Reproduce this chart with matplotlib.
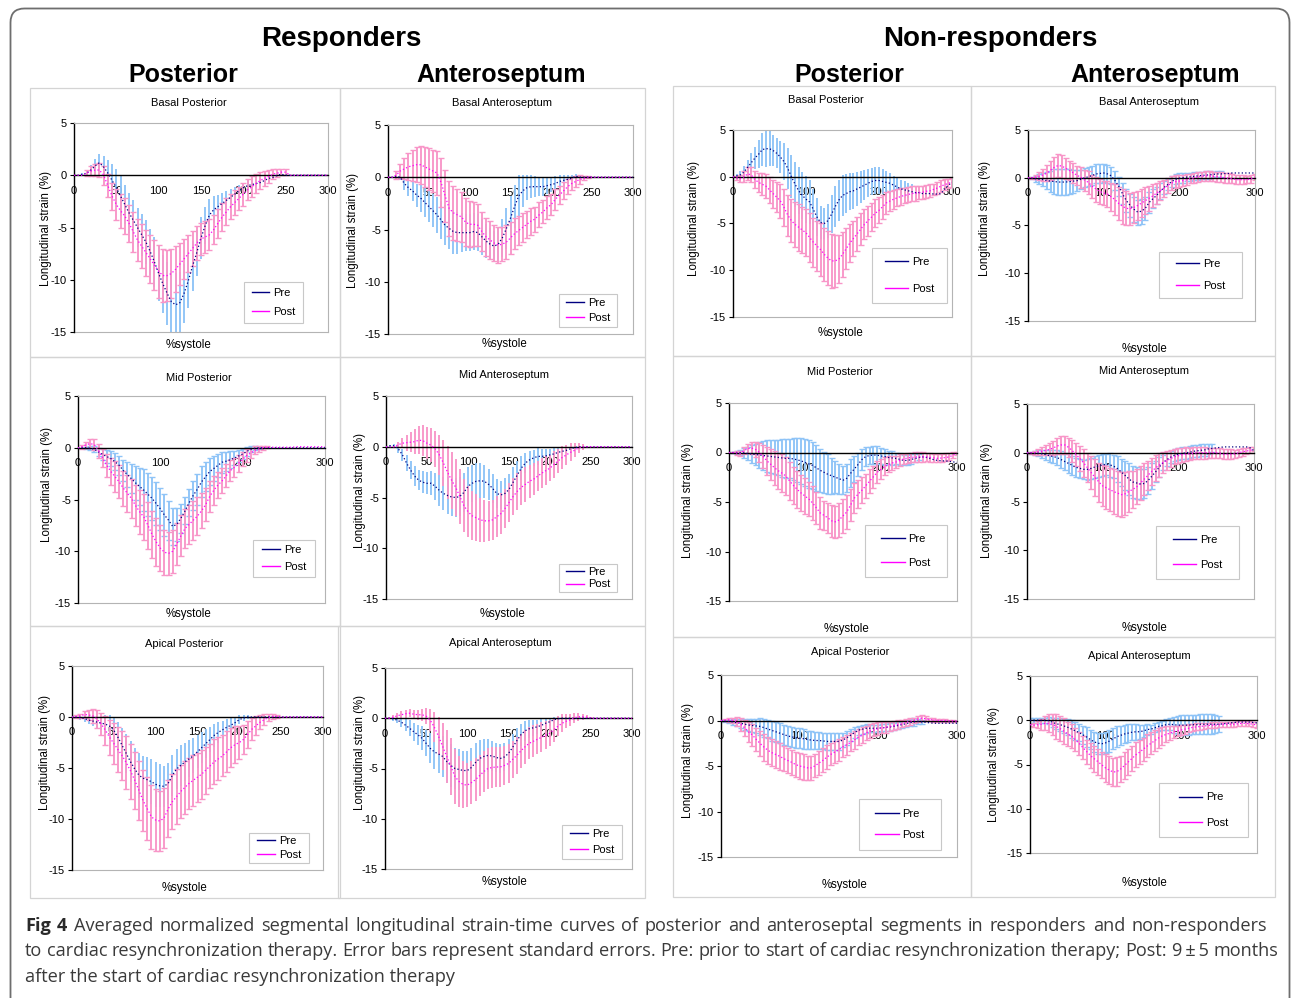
import matplotlib
matplotlib.use('Agg')
import matplotlib.pyplot as plt
import numpy as np
from matplotlib.lines import Line2D
from matplotlib.patches import Rectangle, FancyBboxPatch
from matplotlib.transforms import IdentityTransform

plt.rcParams['font.family'] = ['Liberation Sans', 'DejaVu Sans']
plt.rcParams['axes.unicode_minus'] = False

W, H = 1292, 998

# %systole grid, one value every 5 %
X = np.arange(0, 301, 5)

# ---- Responders -------------------------------------------------------------
R_BAS_POS_PRE = [
    0, 0, 0.1, 0.2, 0.5, 0.9, 1.2, 0.8, 0.2, -0.5,
    -1.2, -2.0, -2.8, -3.6, -4.3, -5.0, -5.7, -6.4, -7.3, -8.3,
    -9.4, -10.4, -11.3, -12.1, -12.4, -12.2, -11.3, -10.1, -8.7, -7.4,
    -6.0, -4.8, -3.8, -3.3, -3.0, -2.7, -2.4, -2.1, -1.8, -1.5,
    -1.2, -1.0, -0.9, -0.8, -0.7, -0.5, -0.3, -0.2, 0, 0.1,
    0, 0, 0, 0, 0, 0, 0, 0, 0, 0,
    0]
R_BAS_POS_PRE_SE = [
    0, 0, 0.1, 0.3, 0.5, 0.7, 0.8, 1.0, 1.3, 1.6,
    1.8, 1.9, 1.9, 1.9, 1.9, 1.9, 2.0, 2.1, 2.2, 2.4,
    2.6, 2.8, 3.0, 3.0, 3.0, 2.9, 2.8, 2.6, 2.4, 2.2,
    2.0, 1.8, 1.5, 1.3, 1.1, 1.0, 0.9, 0.8, 0.7, 0.6,
    0.5, 0.5, 0.4, 0.4, 0.4, 0.3, 0.3, 0.2, 0.2, 0.1,
    0, 0, 0, 0, 0, 0, 0, 0, 0, 0,
    0]
R_BAS_POS_POST = [
    0, 0, 0, 0.2, 0.4, 0.5, 0.5, 0, -1.0, -2.0,
    -2.8, -3.4, -3.9, -4.6, -5.4, -6.2, -6.8, -7.4, -8.0, -8.6,
    -9.2, -9.6, -9.6, -9.4, -9.0, -8.5, -8.0, -7.5, -7.0, -6.5,
    -6.1, -5.9, -5.7, -5.2, -4.6, -4.0, -3.5, -3.0, -2.6, -2.2,
    -1.8, -1.4, -1.1, -0.8, -0.5, -0.3, -0.1, 0.1, 0.2, 0.3,
    0.3, 0, 0, 0, 0, 0, 0, 0, 0, 0,
    0]
R_BAS_POS_POST_SE = [
    0, 0, 0, 0.3, 0.5, 0.6, 0.7, 0.9, 1.1, 1.3,
    1.5, 1.6, 1.7, 1.8, 1.9, 2.0, 2.1, 2.2, 2.3, 2.4,
    2.5, 2.5, 2.4, 2.3, 2.2, 2.0, 1.9, 1.8, 1.7, 1.6,
    1.5, 1.5, 1.5, 1.4, 1.4, 1.3, 1.3, 1.2, 1.2, 1.1,
    1.1, 1.0, 1.0, 0.9, 0.8, 0.7, 0.6, 0.5, 0.4, 0.3,
    0.3, 0, 0, 0, 0, 0, 0, 0, 0, 0,
    0]

R_BAS_ANT_PRE = [
    0, 0, 0.1, 0, -0.6, -1.0, -1.3, -1.7, -2.0, -2.4,
    -2.8, -3.2, -3.6, -4.1, -4.6, -4.9, -5.2, -5.3, -5.3, -5.3,
    -5.3, -5.2, -5.3, -5.7, -6.1, -6.4, -6.6, -6.4, -5.8, -4.9,
    -3.9, -2.8, -1.8, -1.3, -1.0, -0.9, -0.9, -0.9, -0.9, -0.8,
    -0.7, -0.6, -0.4, -0.3, -0.2, -0.1, 0.1, 0, 0, 0,
    0, 0, 0, 0, 0, 0, 0, 0, 0, 0,
    0]
R_BAS_ANT_PRE_SE = [
    0, 0, 0.1, 0.3, 0.6, 0.8, 1.0, 1.1, 1.3, 1.4,
    1.5, 1.6, 1.7, 1.8, 1.9, 2.0, 2.1, 2.0, 1.9, 1.8,
    1.8, 1.8, 1.8, 1.7, 1.6, 1.5, 1.5, 1.6, 1.8, 2.0,
    2.1, 2.1, 2.0, 1.5, 1.2, 1.1, 1.0, 0.9, 0.9, 0.8,
    0.7, 0.7, 0.6, 0.5, 0.4, 0.3, 0.2, 0.1, 0, 0,
    0, 0, 0, 0, 0, 0, 0, 0, 0, 0,
    0]
R_BAS_ANT_POST = [
    0, 0, 0.2, 0.6, 0.8, 1.0, 1.1, 1.2, 1.2, 1.0,
    0.8, 0.6, 0.4, -0.5, -1.8, -3.0, -3.4, -3.6, -3.8, -4.3,
    -4.5, -4.5, -4.6, -5.2, -5.7, -6.0, -6.3, -6.5, -6.4, -6.2,
    -5.8, -5.4, -5.1, -4.8, -4.5, -4.2, -4.0, -3.6, -3.3, -2.9,
    -2.6, -2.1, -1.7, -1.3, -0.9, -0.6, -0.4, -0.2, -0.1, 0,
    0, 0, 0, 0, 0, 0, 0, 0, 0, 0,
    0]
R_BAS_ANT_POST_SE = [
    0, 0, 0.4, 0.7, 1.0, 1.3, 1.5, 1.7, 1.8, 1.9,
    2.0, 2.0, 2.1, 2.3, 2.5, 2.6, 2.6, 2.5, 2.4, 2.3,
    2.2, 2.1, 2.0, 1.9, 1.8, 1.8, 1.7, 1.7, 1.6, 1.6,
    1.5, 1.5, 1.4, 1.4, 1.3, 1.3, 1.2, 1.2, 1.1, 1.1,
    1.0, 1.0, 0.9, 0.8, 0.7, 0.6, 0.5, 0.4, 0.2, 0.1,
    0, 0, 0, 0, 0, 0, 0, 0, 0, 0,
    0]

R_MID_POS_PRE = [
    0, 0, 0, -0.05, -0.15, -0.4, -0.65, -0.85, -1.05, -1.35,
    -1.7, -2.2, -2.6, -3.0, -3.4, -3.75, -4.1, -4.5, -4.9, -5.4,
    -5.9, -6.5, -7.0, -7.6, -7.4, -6.8, -6.1, -5.3, -4.6, -4.0,
    -3.3, -2.8, -2.3, -2.0, -1.7, -1.4, -1.3, -1.15, -1.0, -0.8,
    -0.6, -0.35, -0.15, -0.05, 0, 0, 0, 0, 0, 0,
    0, 0, 0, 0, 0, 0, 0, 0, 0, 0,
    0]
R_MID_POS_PRE_SE = [
    0, 0, 0.1, 0.2, 0.3, 0.4, 0.5, 0.6, 0.7, 0.8,
    0.9, 1.0, 1.2, 1.4, 1.6, 1.8, 2.0, 2.1, 2.1, 2.1,
    2.0, 2.0, 1.9, 1.8, 1.6, 1.4, 1.3, 1.3, 1.4, 1.5,
    1.5, 1.4, 1.3, 1.2, 1.1, 1.0, 0.9, 0.8, 0.7, 0.6,
    0.5, 0.4, 0.3, 0.2, 0.1, 0, 0, 0, 0, 0,
    0, 0, 0, 0, 0, 0, 0, 0, 0, 0,
    0]
R_MID_POS_POST = [
    0, 0.1, 0.3, 0.4, 0.3, -0.3, -1.0, -1.7, -2.3, -2.8,
    -3.3, -3.9, -4.4, -4.9, -5.6, -6.2, -6.7, -7.5, -8.4, -9.1,
    -9.7, -10.1, -10.2, -10.0, -9.3, -8.5, -7.8, -7.4, -7.0, -6.6,
    -6.1, -5.5, -4.7, -4.1, -3.6, -3.2, -2.7, -2.2, -1.9, -1.5,
    -1.1, -0.75, -0.5, -0.25, -0.1, 0, 0.05, 0.05, 0.05, 0.05,
    0.05, 0.05, 0.05, 0.1, 0.1, 0.1, 0.1, 0.1, 0.1, 0.1,
    0.1]
R_MID_POS_POST_SE = [
    0, 0.2, 0.3, 0.4, 0.5, 0.7, 0.9, 1.1, 1.3, 1.5,
    1.6, 1.7, 1.8, 1.9, 2.0, 2.1, 2.2, 2.3, 2.3, 2.3,
    2.2, 2.2, 2.1, 2.1, 2.0, 2.0, 1.9, 1.9, 1.9, 1.8,
    1.7, 1.6, 1.5, 1.4, 1.3, 1.2, 1.1, 1.0, 0.9, 0.8,
    0.7, 0.6, 0.5, 0.4, 0.3, 0.2, 0.1, 0, 0, 0,
    0, 0, 0, 0, 0, 0, 0, 0, 0, 0,
    0]

R_MID_ANT_PRE = [
    0, 0.1, 0.1, -0.2, -0.8, -1.6, -2.3, -2.9, -3.3, -3.5,
    -3.6, -3.6, -3.9, -4.3, -4.6, -4.8, -4.95, -5.0, -4.9, -4.5,
    -3.9, -3.6, -3.4, -3.35, -3.4, -3.7, -4.1, -4.6, -4.75, -4.6,
    -4.2, -3.5, -2.8, -2.1, -1.6, -1.3, -1.1, -0.95, -0.95, -0.9,
    -0.8, -0.7, -0.55, -0.45, -0.35, -0.2, -0.1, 0, 0, 0,
    0, 0, 0, 0, 0, 0, 0, 0, 0, 0,
    0]
R_MID_ANT_PRE_SE = [
    0, 0.1, 0.2, 0.4, 0.6, 0.8, 0.9, 1.0, 1.0, 1.1,
    1.1, 1.2, 1.3, 1.5, 1.6, 1.8, 1.9, 1.9, 1.9, 1.9,
    1.9, 1.8, 1.8, 1.7, 1.6, 1.5, 1.4, 1.4, 1.4, 1.5,
    1.5, 1.5, 1.4, 1.2, 1.0, 0.9, 0.8, 0.8, 0.7, 0.7,
    0.6, 0.6, 0.5, 0.4, 0.3, 0.2, 0.1, 0, 0, 0,
    0, 0, 0, 0, 0, 0, 0, 0, 0, 0,
    0]
R_MID_ANT_POST = [
    0, 0, 0, 0.2, 0.35, 0.4, 0.45, 0.5, 0.65, 0.6,
    0.35, 0.15, -0.2, -0.8, -1.6, -2.5, -3.3, -4.0, -4.9, -5.8,
    -6.4, -6.8, -7.0, -7.2, -7.3, -7.3, -7.2, -6.9, -6.6, -6.1,
    -5.5, -4.9, -4.4, -4.0, -3.7, -3.4, -3.2, -2.9, -2.6, -2.35,
    -2.1, -1.75, -1.4, -1.05, -0.8, -0.55, -0.35, -0.1, 0, 0,
    0, 0, 0, 0, 0, 0, 0, 0, 0, 0,
    0]
R_MID_ANT_POST_SE = [
    0, 0, 0.1, 0.3, 0.5, 0.8, 1.0, 1.2, 1.4, 1.5,
    1.6, 1.7, 1.8, 2.0, 2.3, 2.6, 2.8, 2.8, 2.7, 2.6,
    2.5, 2.4, 2.3, 2.2, 2.1, 2.0, 2.0, 2.0, 2.0, 1.9,
    1.9, 1.8, 1.8, 1.7, 1.7, 1.6, 1.6, 1.5, 1.5, 1.4,
    1.3, 1.3, 1.2, 1.1, 1.0, 0.9, 0.7, 0.5, 0.3, 0.1,
    0, 0, 0, 0, 0, 0, 0, 0, 0, 0,
    0]

R_API_POS_PRE = [
    0, 0, -0.05, -0.15, -0.3, -0.4, -0.5, -0.6, -0.7, -0.9,
    -1.3, -2.0, -2.8, -3.6, -4.4, -5.1, -5.7, -6.0, -6.15, -6.35,
    -6.6, -6.75, -6.8, -6.5, -5.7, -5.1, -4.75, -4.4, -4.1, -3.8,
    -3.4, -3.0, -2.6, -2.2, -1.8, -1.5, -1.25, -1.0, -0.8, -0.55,
    -0.25, -0.1, 0, 0, 0, 0, 0, 0, 0, 0,
    0, 0, 0, 0, 0, 0, 0, 0, 0, 0,
    0]
R_API_POS_PRE_SE = [
    0, 0.1, 0.2, 0.3, 0.4, 0.5, 0.6, 0.7, 0.9, 1.1,
    1.3, 1.5, 1.7, 1.9, 2.0, 2.1, 2.2, 2.2, 2.2, 2.2,
    2.2, 2.1, 2.0, 2.0, 2.0, 2.0, 2.0, 1.9, 1.8, 1.7,
    1.6, 1.5, 1.4, 1.2, 1.1, 1.0, 0.9, 0.8, 0.7, 0.5,
    0.4, 0.3, 0.2, 0, 0, 0, 0, 0, 0, 0,
    0, 0, 0, 0, 0, 0, 0, 0, 0, 0,
    0]
R_API_POS_POST = [
    0, 0.05, 0.1, 0.25, 0.2, 0.1, -0.2, -0.7, -1.3, -2.0,
    -2.6, -3.2, -3.8, -4.5, -5.3, -6.2, -7.2, -8.2, -9.0, -9.8,
    -10.1, -10.2, -9.9, -9.0, -8.3, -7.8, -7.3, -6.9, -6.5, -6.2,
    -5.9, -5.6, -5.2, -4.8, -4.4, -4.1, -3.8, -3.4, -3.0, -2.7,
    -2.5, -2.2, -1.7, -1.2, -0.85, -0.5, -0.25, -0.05, 0.05, 0.05,
    0, 0, 0, 0, 0, 0, 0, 0, 0, 0,
    0]
R_API_POS_POST_SE = [
    0, 0.1, 0.2, 0.3, 0.5, 0.7, 0.9, 1.1, 1.4, 1.7,
    2.0, 2.2, 2.4, 2.6, 2.7, 2.8, 2.9, 3.0, 3.1, 3.1,
    3.0, 2.9, 2.9, 2.8, 2.7, 2.7, 2.6, 2.6, 2.5, 2.5,
    2.4, 2.4, 2.3, 2.2, 2.2, 2.1, 2.0, 2.0, 1.9, 1.8,
    1.6, 1.4, 1.3, 1.1, 0.9, 0.7, 0.5, 0.3, 0.2, 0.1,
    0, 0, 0, 0, 0, 0, 0, 0, 0, 0,
    0]

R_API_ANT_PRE = [
    0, 0, -0.05, -0.2, -0.4, -0.7, -1.0, -1.35, -1.65, -2.0,
    -2.5, -3.0, -3.35, -3.55, -3.8, -4.3, -4.7, -5.0, -5.1, -5.2,
    -5.2, -4.9, -4.4, -4.0, -3.8, -3.7, -3.75, -3.9, -4.0, -3.85,
    -3.5, -2.9, -2.25, -1.65, -1.25, -1.05, -0.95, -0.85, -0.7, -0.5,
    -0.35, -0.15, -0.05, 0, 0, 0, 0, 0, 0, 0,
    0, 0, 0, 0, 0, 0, 0, 0, 0, 0,
    0]
R_API_ANT_PRE_SE = [
    0, 0.1, 0.2, 0.3, 0.5, 0.6, 0.8, 0.9, 1.0, 1.2,
    1.3, 1.5, 1.7, 1.9, 2.0, 2.1, 2.1, 2.0, 2.0, 1.9,
    1.9, 1.9, 1.9, 1.8, 1.7, 1.6, 1.5, 1.4, 1.4, 1.4,
    1.4, 1.3, 1.3, 1.1, 1.0, 0.9, 0.8, 0.7, 0.6, 0.5,
    0.4, 0.3, 0.2, 0.1, 0, 0, 0, 0, 0, 0,
    0, 0, 0, 0, 0, 0, 0, 0, 0, 0,
    0]
R_API_ANT_POST = [
    0, 0, 0.1, 0.25, 0.35, 0.45, 0.5, 0.4, 0.35, 0.35,
    0.2, -0.2, -0.9, -1.8, -2.8, -3.8, -4.8, -5.8, -6.3, -6.6,
    -6.65, -6.4, -6.1, -5.7, -5.3, -5.0, -4.9, -4.85, -4.85, -4.7,
    -4.5, -4.1, -3.7, -3.25, -2.85, -2.5, -2.3, -2.1, -1.9, -1.7,
    -1.5, -1.15, -0.8, -0.5, -0.3, -0.15, 0.05, 0.15, 0.15, 0.1,
    0.05, 0, 0, 0, 0, 0, 0, 0, 0, 0,
    0]
R_API_ANT_POST_SE = [
    0, 0.1, 0.2, 0.3, 0.35, 0.4, 0.4, 0.45, 0.5, 0.6,
    0.8, 1.1, 1.5, 1.9, 2.3, 2.6, 2.8, 2.7, 2.5, 2.3,
    2.2, 2.1, 2.1, 2.0, 2.0, 2.0, 2.0, 2.0, 2.0, 1.9,
    1.9, 1.8, 1.8, 1.7, 1.7, 1.6, 1.6, 1.5, 1.5, 1.4,
    1.3, 1.2, 1.0, 0.9, 0.7, 0.6, 0.5, 0.4, 0.3, 0.2,
    0.1, 0, 0, 0, 0, 0, 0, 0, 0, 0,
    0]

# ---- Non-responders ---------------------------------------------------------
N_BAS_POS_PRE = [
    0, 0.1, 0.2, 0.5, 1.0, 1.5, 2.0, 2.4, 2.9, 3.0,
    3.0, 2.8, 2.5, 2.1, 1.6, 0.9, 0.0, -0.8, -1.5, -2.0,
    -2.4, -2.7, -3.5, -4.3, -4.9, -5.0, -4.7, -4.0, -3.2, -2.5,
    -2.0, -1.8, -1.6, -1.5, -1.3, -1.1, -0.9, -0.7, -0.5, -0.4,
    -0.4, -0.5, -0.6, -0.7, -0.9, -1.1, -1.3, -1.4, -1.5, -1.6,
    -1.7, -1.7, -1.8, -1.8, -1.8, -1.85, -1.85, -1.8, -1.3, -0.9,
    -0.6]
N_BAS_POS_PRE_SE = [
    0, 0.2, 0.4, 0.6, 0.8, 1.0, 1.2, 1.5, 1.8, 2.0,
    1.9, 1.7, 1.6, 1.7, 2.0, 2.2, 2.3, 2.4, 2.5, 2.5,
    2.5, 2.4, 2.2, 2.0, 1.8, 1.7, 1.8, 2.0, 2.2, 2.2,
    2.2, 2.1, 2.0, 1.9, 1.8, 1.7, 1.6, 1.5, 1.4, 1.4,
    1.4, 1.3, 1.2, 1.1, 1.0, 1.0, 0.9, 0.9, 0.8, 0.8,
    0, 0, 0, 0, 0, 0, 0, 0, 0, 0,
    0]
N_BAS_POS_POST = [
    0, -0.1, -0.2, 0, 0.3, 0.2, -0.3, -0.6, -0.8, -1.0,
    -1.4, -1.8, -2.2, -2.6, -3.3, -4.1, -4.7, -5.1, -5.4, -5.7,
    -6.0, -6.5, -7.0, -7.4, -7.8, -8.3, -8.7, -9.0, -9.0, -8.8,
    -8.3, -7.7, -7.1, -6.6, -6.1, -5.6, -5.1, -4.7, -4.3, -3.9,
    -3.6, -3.2, -2.8, -2.6, -2.4, -2.25, -2.1, -2.0, -1.9, -1.8,
    -1.75, -1.7, -1.65, -1.55, -1.5, -1.35, -1.2, -1.0, -0.85, -0.7,
    -0.6]
N_BAS_POS_POST_SE = [
    0, 0.2, 0.4, 0.6, 0.7, 0.8, 0.9, 1.0, 1.2, 1.3,
    1.4, 1.5, 1.6, 1.8, 2.0, 2.2, 2.3, 2.4, 2.5, 2.5,
    2.5, 2.6, 2.6, 2.7, 2.8, 2.8, 2.9, 2.9, 2.8, 2.6,
    2.4, 2.2, 2.0, 1.9, 1.8, 1.7, 1.6, 1.6, 1.5, 1.5,
    1.4, 1.3, 1.2, 1.1, 1.0, 0.9, 0.9, 0.8, 0.8, 0.8,
    0.8, 0.7, 0.7, 0.7, 0.7, 0.6, 0.6, 0.6, 0.6, 0.5,
    0.5]

N_BAS_ANT_PRE = [
    0, 0, -0.1, -0.15, -0.2, -0.3, -0.35, -0.4, -0.45, -0.45,
    -0.45, -0.4, -0.35, -0.3, -0.15, 0, 0.1, 0.25, 0.4, 0.45,
    0.5, 0.4, 0.2, -0.3, -0.9, -1.7, -2.4, -2.9, -3.3, -3.6,
    -3.5, -3.2, -2.6, -2.2, -1.85, -1.4, -1.0, -0.7, -0.4, -0.15,
    -0.05, 0, 0.07, 0.1, 0.15, 0.2, 0.25, 0.28, 0.3, 0.35,
    0.4, 0.4, 0.45, 0.45, 0.5, 0.5, 0.5, 0.5, 0.5, 0.5,
    0.5]
N_BAS_ANT_PRE_SE = [
    0, 0.1, 0.3, 0.5, 0.7, 0.9, 1.1, 1.3, 1.4, 1.4,
    1.4, 1.3, 1.2, 1.1, 1.0, 1.0, 1.0, 1.0, 1.0, 1.0,
    0.9, 0.9, 0.9, 1.0, 1.0, 1.1, 1.2, 1.2, 1.3, 1.3,
    1.3, 1.2, 1.1, 1.0, 0.9, 0.8, 0.7, 0.6, 0.6, 0.5,
    0.5, 0.5, 0.4, 0.4, 0.4, 0.4, 0.4, 0.4, 0.4, 0.3,
    0.3, 0.3, 0, 0, 0, 0, 0, 0, 0, 0,
    0]
N_BAS_ANT_POST = [
    0, 0, 0.05, 0.15, 0.3, 0.5, 0.8, 1.1, 1.3, 1.2,
    1.0, 0.75, 0.5, 0.25, 0.05, -0.25, -0.5, -0.9, -1.2, -1.45,
    -1.6, -1.7, -2.0, -2.3, -2.7, -3.0, -3.2, -3.25, -3.1, -2.9,
    -2.65, -2.4, -2.15, -1.9, -1.6, -1.35, -1.1, -0.8, -0.55, -0.4,
    -0.35, -0.3, -0.2, -0.1, 0, 0.1, 0.15, 0.2, 0.2, 0.15,
    0.1, 0.05, 0, -0.05, -0.1, -0.2, -0.2, -0.2, -0.2, -0.1,
    0.05]
N_BAS_ANT_POST_SE = [
    0, 0.1, 0.2, 0.4, 0.6, 0.8, 1.0, 1.1, 1.2, 1.2,
    1.1, 1.0, 1.0, 1.0, 1.1, 1.1, 1.2, 1.2, 1.3, 1.3,
    1.3, 1.4, 1.5, 1.6, 1.7, 1.8, 1.8, 1.7, 1.6, 1.5,
    1.5, 1.4, 1.3, 1.2, 1.1, 1.0, 0.9, 0.8, 0.7, 0.7,
    0.6, 0.6, 0.6, 0.5, 0.5, 0.5, 0.5, 0.5, 0.5, 0.5,
    0.5, 0.5, 0.5, 0.5, 0.5, 0.5, 0.5, 0.5, 0.4, 0.4,
    0.3]

N_MID_POS_PRE = [
    0, 0, 0, 0, -0.05, -0.1, -0.15, -0.2, -0.25, -0.3,
    -0.35, -0.4, -0.45, -0.5, -0.55, -0.6, -0.6, -0.65, -0.75, -0.85,
    -1.0, -1.15, -1.3, -1.55, -1.8, -2.0, -2.2, -2.35, -2.5, -2.65,
    -2.8, -2.6, -2.1, -1.65, -1.2, -0.7, -0.4, -0.3, -0.25, -0.27,
    -0.35, -0.42, -0.5, -0.55, -0.6, -0.7, -0.8, -0.8, -0.7, -0.6,
    -0.5, -0.45, -0.5, -0.6, -0.75, -0.8, -0.85, -0.85, -0.9, -0.95,
    -1.0]
N_MID_POS_PRE_SE = [
    0, 0.1, 0.2, 0.3, 0.5, 0.7, 0.9, 1.1, 1.3, 1.5,
    1.6, 1.7, 1.7, 1.8, 1.9, 2.0, 2.0, 2.1, 2.2, 2.3,
    2.4, 2.4, 2.4, 2.3, 2.2, 2.1, 2.0, 1.8, 1.6, 1.5,
    1.4, 1.4, 1.4, 1.3, 1.2, 1.1, 1.0, 0.9, 0.9, 0.9,
    0.8, 0.8, 0.7, 0.7, 0.6, 0.6, 0.5, 0.5, 0.5, 0.4,
    0.3, 0, 0, 0, 0, 0, 0, 0, 0, 0,
    0]
N_MID_POS_POST = [
    0, 0, -0.05, -0.1, 0.2, 0.4, 0.45, 0.3, 0, -0.4,
    -0.85, -1.2, -1.55, -1.85, -2.1, -2.4, -2.9, -3.35, -3.75, -4.1,
    -4.4, -4.7, -5.1, -5.6, -6.1, -6.35, -6.6, -6.9, -7.0, -6.8,
    -6.4, -6.0, -5.3, -4.6, -4.2, -3.8, -3.35, -2.9, -2.45, -2.0,
    -1.7, -1.4, -1.2, -1.05, -0.95, -0.8, -0.65, -0.55, -0.5, -0.45,
    -0.45, -0.45, -0.45, -0.5, -0.55, -0.6, -0.55, -0.5, -0.45, -0.25,
    -0.1]
N_MID_POS_POST_SE = [
    0, 0.1, 0.2, 0.3, 0.4, 0.5, 0.6, 0.8, 1.0, 1.2,
    1.4, 1.6, 1.7, 1.8, 1.9, 1.9, 1.9, 1.9, 1.9, 1.8,
    1.8, 1.7, 1.7, 1.6, 1.6, 1.5, 1.5, 1.6, 1.6, 1.7,
    1.7, 1.7, 1.6, 1.5, 1.4, 1.3, 1.2, 1.2, 1.1, 1.1,
    1.0, 0.9, 0.8, 0.7, 0.6, 0.6, 0.5, 0.5, 0.5, 0.5,
    0.5, 0.5, 0.45, 0.45, 0.4, 0.4, 0.4, 0.4, 0.35, 0.3,
    0.2]

N_MID_ANT_PRE = [
    0, 0, 0, -0.05, -0.1, -0.2, -0.3, -0.4, -0.5, -0.7,
    -0.9, -1.1, -1.3, -1.5, -1.6, -1.7, -1.7, -1.6, -1.45, -1.35,
    -1.25, -1.2, -1.25, -1.4, -1.65, -2.0, -2.35, -2.7, -3.0, -3.1,
    -3.2, -3.15, -2.85, -2.4, -1.95, -1.45, -1.0, -0.7, -0.45, -0.25,
    -0.15, -0.05, 0, 0.05, 0.15, 0.2, 0.25, 0.3, 0.4, 0.45,
    0.5, 0.55, 0.6, 0.6, 0.6, 0.6, 0.6, 0.6, 0.6, 0.5,
    0.2]
N_MID_ANT_PRE_SE = [
    0, 0.1, 0.2, 0.3, 0.4, 0.5, 0.6, 0.7, 0.8, 0.9,
    0.9, 1.0, 1.0, 1.0, 1.0, 1.0, 1.1, 1.1, 1.1, 1.1,
    1.1, 1.1, 1.2, 1.2, 1.3, 1.4, 1.5, 1.6, 1.6, 1.6,
    1.5, 1.5, 1.4, 1.3, 1.1, 1.0, 0.8, 0.7, 0.6, 0.6,
    0.6, 0.6, 0.6, 0.6, 0.6, 0.6, 0.6, 0.6, 0.5, 0.4,
    0, 0, 0, 0, 0, 0, 0, 0, 0, 0,
    0]
N_MID_ANT_POST = [
    0, 0, 0, 0.1, 0.15, 0.25, 0.35, 0.5, 0.7, 0.8,
    0.8, 0.55, 0.2, -0.2, -0.6, -1.05, -1.55, -2.05, -2.55, -3.0,
    -3.4, -3.6, -3.8, -4.0, -4.15, -4.3, -4.2, -3.95, -3.75, -3.5,
    -3.1, -2.7, -2.3, -1.9, -1.55, -1.25, -1.0, -0.8, -0.6, -0.4,
    -0.3, -0.2, -0.15, -0.1, -0.05, 0, 0, 0, 0, 0,
    0, -0.05, -0.15, -0.15, -0.15, -0.1, 0, 0.1, 0.17, 0.25,
    0.35]
N_MID_ANT_POST_SE = [
    0, 0.1, 0.2, 0.3, 0.4, 0.5, 0.6, 0.7, 0.8, 0.9,
    0.9, 1.0, 1.1, 1.2, 1.3, 1.4, 1.5, 1.7, 1.9, 2.0,
    2.1, 2.2, 2.2, 2.3, 2.3, 2.3, 2.2, 2.1, 1.9, 1.8,
    1.7, 1.6, 1.5, 1.4, 1.3, 1.2, 1.1, 1.0, 0.9, 0.8,
    0.8, 0.7, 0.7, 0.6, 0.6, 0.6, 0.6, 0.6, 0.5, 0.5,
    0.5, 0.5, 0.5, 0.5, 0.5, 0.4, 0.4, 0.4, 0.3, 0.3,
    0.2]

N_API_POS_PRE = [
    0, -0.05, -0.1, -0.15, -0.25, -0.3, -0.4, -0.5, -0.55, -0.6,
    -0.65, -0.8, -0.95, -1.1, -1.25, -1.4, -1.55, -1.7, -1.8, -1.9,
    -1.95, -2.0, -2.1, -2.15, -2.2, -2.2, -2.25, -2.3, -2.3, -2.3,
    -2.3, -2.15, -1.9, -1.6, -1.3, -1.05, -0.95, -0.85, -0.85, -0.85,
    -0.85, -0.8, -0.75, -0.7, -0.62, -0.55, -0.45, -0.35, -0.25, -0.15,
    -0.1, -0.15, -0.2, -0.25, -0.3, -0.3, -0.3, -0.3, -0.3, -0.3,
    -0.3]
N_API_POS_PRE_SE = [
    0, 0.1, 0.2, 0.3, 0.4, 0.5, 0.6, 0.7, 0.7, 0.8,
    0.9, 1.0, 1.0, 1.1, 1.1, 1.1, 1.1, 1.1, 1.1, 1.1,
    1.1, 1.1, 1.0, 1.0, 0.9, 0.9, 0.9, 0.9, 0.9, 0.9,
    0.9, 0.8, 0.8, 0.7, 0.6, 0.5, 0.5, 0.5, 0.4, 0.4,
    0.4, 0.4, 0.4, 0.4, 0.4, 0.4, 0.4, 0.4, 0.4, 0.4,
    0.3, 0.2, 0, 0, 0, 0, 0, 0, 0, 0,
    0]
N_API_POS_POST = [
    0, 0.05, 0.07, 0, -0.1, -0.4, -0.8, -1.25, -1.6, -2.1,
    -2.55, -2.95, -3.3, -3.55, -3.75, -3.95, -4.2, -4.4, -4.6, -4.85,
    -5.0, -5.1, -5.2, -5.2, -4.95, -4.65, -4.35, -4.0, -3.7, -3.45,
    -3.2, -2.9, -2.65, -2.4, -2.1, -1.8, -1.6, -1.35, -1.15, -1.0,
    -0.9, -0.8, -0.75, -0.65, -0.55, -0.45, -0.35, -0.2, -0.1, 0,
    0.15, 0.25, 0.2, 0.1, 0.05, 0, 0, 0, -0.05, -0.05,
    -0.1]
N_API_POS_POST_SE = [
    0, 0.1, 0.2, 0.3, 0.5, 0.7, 0.9, 1.1, 1.2, 1.3,
    1.4, 1.5, 1.5, 1.5, 1.5, 1.5, 1.4, 1.4, 1.4, 1.4,
    1.4, 1.4, 1.35, 1.3, 1.3, 1.3, 1.3, 1.3, 1.2, 1.2,
    1.2, 1.1, 1.1, 1.0, 1.0, 0.9, 0.9, 0.8, 0.8, 0.7,
    0.7, 0.6, 0.6, 0.5, 0.5, 0.5, 0.4, 0.4, 0.4, 0.3,
    0.3, 0.3, 0.3, 0.2, 0.2, 0.2, 0.2, 0.2, 0.1, 0.1,
    0.1]

N_API_ANT_PRE = [
    0, 0, 0, 0, 0, -0.05, -0.25, -0.4, -0.5, -0.65,
    -0.8, -1.0, -1.2, -1.4, -1.65, -1.9, -2.2, -2.45, -2.6, -2.65,
    -2.55, -2.35, -2.1, -1.85, -1.7, -1.55, -1.45, -1.35, -1.3, -1.3,
    -1.2, -1.05, -1.0, -0.85, -0.7, -0.6, -0.5, -0.45, -0.5, -0.55,
    -0.55, -0.55, -0.55, -0.5, -0.5, -0.45, -0.45, -0.45, -0.45, -0.45,
    -0.45, -0.4, -0.35, -0.3, -0.25, -0.2, -0.2, -0.2, -0.2, -0.25,
    -0.3]
N_API_ANT_PRE_SE = [
    0.3, 0.3, 0.3, 0.3, 0.3, 0.4, 0.5, 0.6, 0.7, 0.8,
    0.9, 1.0, 1.0, 1.0, 1.0, 1.1, 1.1, 1.1, 1.2, 1.2,
    1.2, 1.2, 1.2, 1.2, 1.1, 1.0, 1.0, 0.9, 0.9, 0.8,
    0.7, 0.6, 0.5, 0.5, 0.5, 0.5, 0.6, 0.7, 0.9, 1.0,
    1.1, 1.1, 1.1, 1.1, 1.1, 1.1, 1.1, 1.1, 1.1, 1.0,
    0.9, 0, 0, 0, 0, 0, 0, 0, 0, 0,
    0]
N_API_ANT_POST = [
    -0.5, -0.55, -0.5, -0.45, -0.35, -0.35, -0.45, -0.7, -0.95, -1.25,
    -1.55, -1.8, -2.2, -2.6, -3.1, -3.55, -4.0, -4.35, -4.7, -5.05,
    -5.4, -5.65, -5.85, -5.8, -5.5, -5.1, -4.7, -4.3, -3.9, -3.6,
    -3.25, -2.9, -2.6, -2.3, -2.0, -1.75, -1.6, -1.45, -1.3, -1.2,
    -1.1, -1.0, -0.9, -0.8, -0.75, -0.7, -0.65, -0.6, -0.55, -0.55,
    -0.5, -0.45, -0.45, -0.45, -0.45, -0.4, -0.35, -0.35, -0.4, -0.45,
    -0.55]
N_API_ANT_POST_SE = [
    0.1, 0.2, 0.4, 0.6, 0.8, 1.0, 1.2, 1.4, 1.45, 1.45,
    1.4, 1.35, 1.3, 1.3, 1.3, 1.35, 1.4, 1.45, 1.5, 1.5,
    1.55, 1.6, 1.6, 1.6, 1.5, 1.5, 1.45, 1.4, 1.4, 1.35,
    1.3, 1.3, 1.25, 1.2, 1.1, 1.0, 0.9, 0.8, 0.7, 0.6,
    0.55, 0.5, 0.45, 0.4, 0.4, 0.35, 0.35, 0.3, 0.3, 0.3,
    0.3, 0.3, 0.3, 0.3, 0.3, 0.3, 0.3, 0.3, 0.3, 0.3,
    0.3]

Y_TICKS = [-15, -10, -5, 0, 5]
GROUP_TITLES = ['Responders', 'Non-responders']
SEGMENT_TITLES = ['Posterior', 'Anteroseptum', 'Posterior', 'Anteroseptum']
CAPTION_BOLD = 'Fig 4'
CAPTION_LINES = [
    'Averaged normalized segmental longitudinal strain-time curves of posterior and anteroseptal segments in responders and non-responders',
    'to cardiac resynchronization therapy. Error bars represent standard errors. Pre: prior to start of cardiac resynchronization therapy; Post: 9\u2009\u00b1\u20095 months',
    'after the start of cardiac resynchronization therapy',
]

PRE_LINE = '#000080'
POST_LINE = '#FF00FF'
PRE_BAR = '#8FC4F7'
POST_BAR = '#F896C8'
FRAME = '#D4D4D4'
PLOT_EDGE = '#B4B4B4'
CAP_COLOR = '#3A3A3A'

# layout in pixels: axes (l, t, r, b), title, xlabel, ylabel centres,
# legend box (x0, y0, x1, y1), legend row spacing, handle length, x tick step, cap sizes
PANELS = [
    ('Basal Posterior', R_BAS_POS_PRE, R_BAS_POS_PRE_SE, R_BAS_POS_POST, R_BAS_POS_POST_SE,
     dict(ax=(74, 123, 328, 332), title=(189, 103), xl=(189, 345), yl=(46, 228),
          leg=(244, 282, 303, 323), ls=0.8, hl=1.6, step=50, caps=(0, 2))),
    ('Basal Anteroseptum', R_BAS_ANT_PRE, R_BAS_ANT_PRE_SE, R_BAS_ANT_POST, R_BAS_ANT_POST_SE,
     dict(ax=(388, 125, 633, 334), title=(502, 103), xl=(505, 344), yl=(353, 230),
          leg=(559, 294, 617, 327), ls=0.45, hl=1.6, step=50, caps=(0, 2))),
    ('Basal Posterior', N_BAS_POS_PRE, N_BAS_POS_PRE_SE, N_BAS_POS_POST, N_BAS_POS_POST_SE,
     dict(ax=(733, 130, 952, 317), title=(826, 100), xl=(841, 333), yl=(694, 218),
          leg=(872, 248, 947, 303), ls=1.5, hl=2.1, step=100, caps=(0, 2))),
    ('Basal Anteroseptum', N_BAS_ANT_PRE, N_BAS_ANT_PRE_SE, N_BAS_ANT_POST, N_BAS_ANT_POST_SE,
     dict(ax=(1028, 130, 1255, 321), title=(1149, 102), xl=(1145, 349), yl=(985, 219),
          leg=(1159, 252, 1242, 298), ls=1.1, hl=2.1, step=100, caps=(2, 2))),
    ('Mid Posterior', R_MID_POS_PRE, R_MID_POS_PRE_SE, R_MID_POS_POST, R_MID_POS_POST_SE,
     dict(ax=(78, 396, 325, 603), title=(199, 378), xl=(189, 614), yl=(47, 484),
          leg=(253, 540, 315, 577), ls=0.6, hl=1.6, step=100, caps=(2, 2))),
    ('Mid Anteroseptum', R_MID_ANT_PRE, R_MID_ANT_PRE_SE, R_MID_ANT_POST, R_MID_ANT_POST_SE,
     dict(ax=(386, 396, 632, 599), title=(504, 375), xl=(502, 614), yl=(360, 490),
          leg=(559, 564, 617, 592), ls=0.25, hl=1.6, step=50, caps=(0, 0))),
    ('Mid Posterior', N_MID_POS_PRE, N_MID_POS_PRE_SE, N_MID_POS_POST, N_MID_POS_POST_SE,
     dict(ax=(729, 403, 957, 601), title=(840, 372), xl=(847, 629), yl=(688, 500),
          leg=(865, 525, 947, 577), ls=1.3, hl=2.1, step=100, caps=(2, 2))),
    ('Mid Anteroseptum', N_MID_ANT_PRE, N_MID_ANT_PRE_SE, N_MID_ANT_POST, N_MID_ANT_POST_SE,
     dict(ax=(1027, 404, 1254, 599), title=(1144, 371), xl=(1144, 628), yl=(987, 500),
          leg=(1156, 526, 1239, 579), ls=1.3, hl=2.1, step=100, caps=(2, 2))),
    ('Apical Posterior', R_API_POS_PRE, R_API_POS_PRE_SE, R_API_POS_POST, R_API_POS_POST_SE,
     dict(ax=(72, 666, 323, 870), title=(184, 644), xl=(185, 888), yl=(45, 753),
          leg=(249, 833, 309, 863), ls=0.3, hl=1.6, step=50, caps=(0, 2))),
    ('Apical Anteroseptum', R_API_ANT_PRE, R_API_ANT_PRE_SE, R_API_ANT_POST, R_API_ANT_POST_SE,
     dict(ax=(385, 668, 632, 869), title=(500, 643), xl=(505, 882), yl=(360, 753),
          leg=(562, 825, 622, 859), ls=0.5, hl=1.6, step=50, caps=(0, 0))),
    ('Apical Posterior', N_API_POS_PRE, N_API_POS_PRE_SE, N_API_POS_POST, N_API_POS_POST_SE,
     dict(ax=(721, 675, 957, 857), title=(850, 652), xl=(844, 885), yl=(688, 760),
          leg=(859, 799, 941, 850), ls=1.0, hl=2.1, step=100, caps=(2, 2))),
    ('Apical Anteroseptum', N_API_ANT_PRE, N_API_ANT_PRE_SE, N_API_ANT_POST, N_API_ANT_POST_SE,
     dict(ax=(1030, 676, 1257, 853), title=(1139, 656), xl=(1145, 883), yl=(994, 765),
          leg=(1159, 783, 1248, 837), ls=1.35, hl=2.1, step=100, caps=(2, 2))),
]

# grey panel frames (x0, y0, x1, y1)
FRAMES = [
    (30, 88, 340, 357), (340, 88, 645, 357), (30, 357, 340, 626), (340, 357, 645, 626),
    (30, 626, 340, 898), (338, 626, 645, 898),
    (673, 86, 971, 356), (971, 86, 1275, 356), (673, 356, 971, 637), (971, 356, 1275, 637),
    (673, 637, 971, 897), (971, 637, 1275, 897),
]


def fx(x):
    return x / W


def fy(y):
    return 1 - y / H


fig = plt.figure(figsize=(W / 100, H / 100), dpi=100)
fig.patch.set_facecolor('white')

# rounded outer border of the figure box (bottom runs off the page)
fig.add_artist(FancyBboxPatch((10.5, -30), 1279, 1019.5, boxstyle='round,pad=0,rounding_size=14',
                              transform=IdentityTransform(), fill=False, ec='#6E6E6E', lw=1.3))

for x0, y0, x1, y1 in FRAMES:
    fig.add_artist(Rectangle((fx(x0), fy(y1)), (x1 - x0) / W, (y1 - y0) / H,
                             transform=fig.transFigure, fill=False, ec=FRAME, lw=0.9, zorder=-1))

fig.text(fx(341), fy(38.5), GROUP_TITLES[0], ha='center', va='center', fontsize=20, weight='bold')
fig.text(fx(990), fy(38.5), GROUP_TITLES[1], ha='center', va='center', fontsize=20, weight='bold')
for cx, name in zip([183, 501, 849, 1155], SEGMENT_TITLES):
    fig.text(fx(cx), fy(75), name, ha='center', va='center', fontsize=18, weight='bold')

handles = [Line2D([], [], color=PRE_LINE, lw=1.0), Line2D([], [], color=POST_LINE, lw=1.0)]

for title, pre, pre_se, post, post_se, lay in PANELS:
    l, t, r, b = lay['ax']
    ax = fig.add_axes([fx(l), fy(b), (r - l) / W, (b - t) / H])

    for ys, se, col, cap in ((pre, pre_se, PRE_BAR, lay['caps'][0]),
                             (post, post_se, POST_BAR, lay['caps'][1])):
        ys = np.asarray(ys, float)
        se = np.asarray(se, float)
        m = se > 0
        ax.errorbar(X[m], ys[m], yerr=se[m], fmt='none', ecolor=col, elinewidth=1.35,
                    capsize=cap, capthick=1.0, zorder=2)
    ax.plot(X, pre, color=PRE_LINE, lw=0.9, ls=(0, (1, 1.8)), zorder=4)
    ax.plot(X, post, color=POST_LINE, lw=0.9, ls=(0, (1, 1.8)), zorder=4)

    ax.set_xlim(0, 300)
    ax.set_ylim(-15, 5)
    ax.set_yticks(Y_TICKS)
    ax.set_xticks(np.arange(0, 301, lay['step']))
    ax.spines['bottom'].set_position(('data', 0))
    ax.spines['bottom'].set_color('black')
    ax.spines['bottom'].set_linewidth(1.0)
    ax.spines['bottom'].set_zorder(3)
    ax.spines['left'].set_color('black')
    ax.spines['left'].set_linewidth(1.0)
    for side in ('top', 'right'):
        ax.spines[side].set_color(PLOT_EDGE)
        ax.spines[side].set_linewidth(0.8)
    ax.add_line(Line2D([0, 1], [0, 0], transform=ax.transAxes, color=PLOT_EDGE, lw=0.8,
                       clip_on=False))
    ax.tick_params(axis='y', direction='out', length=3, width=0.8, labelsize=8, pad=2)
    ax.tick_params(axis='x', length=0, labelsize=8, pad=7.5)

    fig.text(fx(lay['title'][0]), fy(lay['title'][1]), title, ha='center', va='center', fontsize=8)
    fig.text(fx(lay['xl'][0]), fy(lay['xl'][1]), '%systole', ha='center', va='center', fontsize=8.3)
    fig.text(fx(lay['yl'][0]), fy(lay['yl'][1]), 'Longitudinal strain (%)', ha='center',
             va='center', rotation=90, fontsize=8.3)

    x0, y0, x1, y1 = lay['leg']
    box = (fx(x0), fy(y1), (x1 - x0) / W, (y1 - y0) / H)
    ax.add_patch(Rectangle(box[:2], box[2], box[3], transform=fig.transFigure, fc='white',
                           ec='#C8C8C8', lw=0.8, clip_on=False, zorder=8))
    leg = ax.legend(handles, ['Pre', 'Post'], loc='center', bbox_to_anchor=box,
                    bbox_transform=fig.transFigure, frameon=False, fontsize=8,
                    handlelength=lay['hl'], handletextpad=0.35, labelspacing=lay['ls'],
                    borderpad=0.1)
    leg.set_zorder(9)

# caption: size from the last (ragged) line, first two lines justified
cap_font = ['Open Sans', 'DejaVu Sans']
renderer = fig.canvas.get_renderer()
probe = fig.text(0, 0, CAPTION_LINES[2], fontsize=14, family=cap_font)
cap_fs = 14 * 432 / probe.get_window_extent(renderer).width
probe.remove()


def justified(words, y, x0=25, x1=1267):
    arts = []
    for word, weight, color in words:
        arts.append(fig.text(0, fy(y), word, fontsize=cap_fs, family=cap_font, weight=weight,
                             color=color, va='center', ha='left'))
    widths = [a.get_window_extent(renderer).width for a in arts]
    gap = (x1 - x0 - sum(widths)) / (len(arts) - 1)
    x = x0
    for a, w in zip(arts, widths):
        a.set_x(fx(x))
        x += w + gap


line1 = [(w, 'bold', '#2A2A2A') for w in CAPTION_BOLD.split()] + \
        [(w, 'normal', CAP_COLOR) for w in CAPTION_LINES[0].split()]
justified(line1, 926)
justified([(w, 'normal', CAP_COLOR) for w in CAPTION_LINES[1].split(' ')], 951, x1=1278)
fig.text(fx(25), fy(977), CAPTION_LINES[2], fontsize=cap_fs, family=cap_font,
         color=CAP_COLOR, va='center', ha='left')

fig.savefig('out.png', dpi=100)
